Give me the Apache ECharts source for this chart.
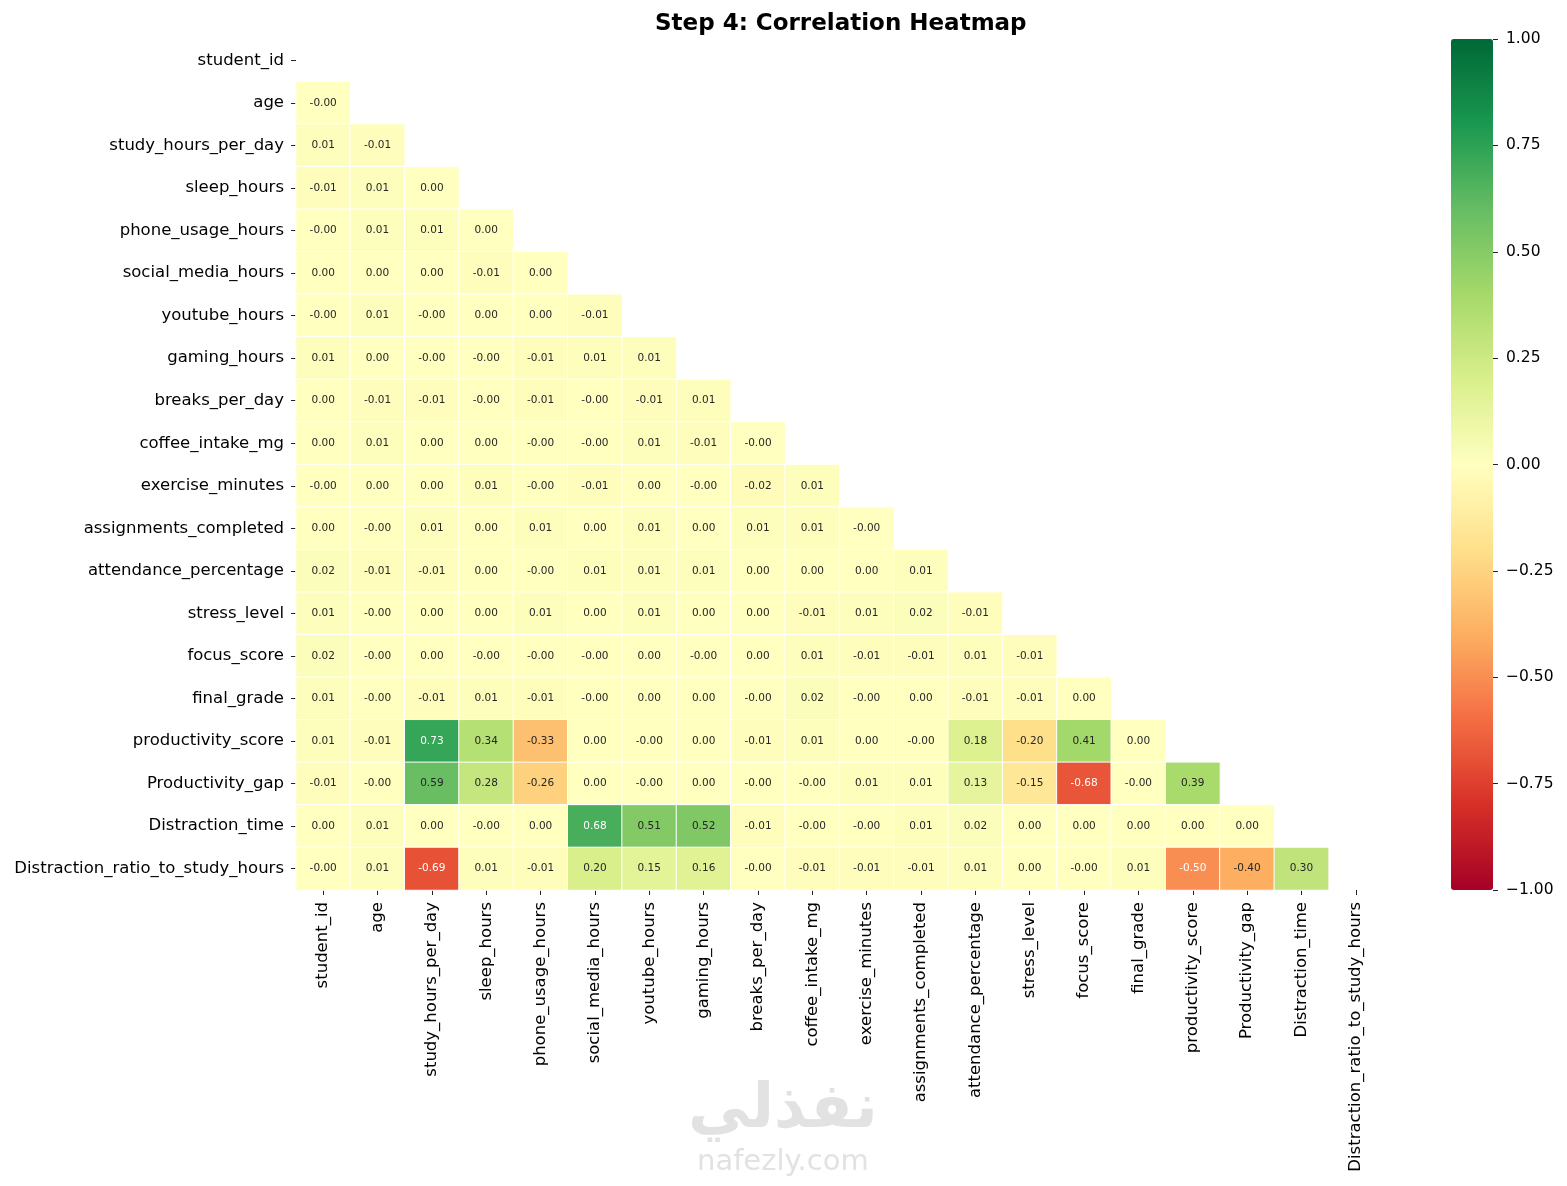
<!DOCTYPE html>
<html>
<head>
<meta charset="utf-8">
<title>Step 4: Correlation Heatmap</title>
<script src="https://cdn.jsdelivr.net/npm/echarts@6/dist/echarts.min.js"></script>
<style>
  html, body { margin: 0; padding: 0; background: #fff; }
  #chart { width: 1567px; height: 1186px; }
</style>
</head>
<body>
<div id="chart"></div>
<script>
// column / row names, same order on both axes
var features = [
  'student_id', 'age', 'study_hours_per_day', 'sleep_hours', 'phone_usage_hours',
  'social_media_hours', 'youtube_hours', 'gaming_hours', 'breaks_per_day', 'coffee_intake_mg',
  'exercise_minutes', 'assignments_completed', 'attendance_percentage', 'stress_level', 'focus_score',
  'final_grade', 'productivity_score', 'Productivity_gap', 'Distraction_time', 'Distraction_ratio_to_study_hours'
];

// lower triangle, row i holds columns 0..i-1 (-0 means "-0.00" in the picture)
var rowAge          = [-0];
var rowStudy        = [0.01, -0.01];
var rowSleep        = [-0.01, 0.01, 0];
var rowPhone        = [-0, 0.01, 0.01, 0];
var rowSocial       = [0, 0, 0, -0.01, 0];
var rowYoutube      = [-0, 0.01, -0, 0, 0, -0.01];
var rowGaming       = [0.01, 0, -0, -0, -0.01, 0.01, 0.01];
var rowBreaks       = [0, -0.01, -0.01, -0, -0.01, -0, -0.01, 0.01];
var rowCoffee       = [0, 0.01, 0, 0, -0, -0, 0.01, -0.01, -0];
var rowExercise     = [-0, 0, 0, 0.01, -0, -0.01, 0, -0, -0.02, 0.01];
var rowAssignments  = [0, -0, 0.01, 0, 0.01, 0, 0.01, 0, 0.01, 0.01, -0];
var rowAttendance   = [0.02, -0.01, -0.01, 0, -0, 0.01, 0.01, 0.01, 0, 0, 0, 0.01];
var rowStress       = [0.01, -0, 0, 0, 0.01, 0, 0.01, 0, 0, -0.01, 0.01, 0.02, -0.01];
var rowFocus        = [0.02, -0, 0, -0, -0, -0, 0, -0, 0, 0.01, -0.01, -0.01, 0.01, -0.01];
var rowFinal        = [0.01, -0, -0.01, 0.01, -0.01, -0, 0, 0, -0, 0.02, -0, 0, -0.01, -0.01, 0];
var rowProductivity = [0.01, -0.01, 0.73, 0.34, -0.33, 0, -0, 0, -0.01, 0.01, 0, -0, 0.18, -0.20, 0.41, 0];
var rowGap          = [-0.01, -0, 0.59, 0.28, -0.26, 0, -0, 0, -0, -0, 0.01, 0.01, 0.13, -0.15, -0.68, -0, 0.39];
var rowDistraction  = [0, 0.01, 0, -0, 0, 0.68, 0.51, 0.52, -0.01, -0, -0, 0.01, 0.02, 0, 0, 0, 0, 0];
var rowRatio        = [-0, 0.01, -0.69, 0.01, -0.01, 0.20, 0.15, 0.16, -0, -0.01, -0.01, -0.01, 0.01, 0, -0, 0.01, -0.50, -0.40, 0.30];

var colorbarTicks = [-1, -0.75, -0.5, -0.25, 0, 0.25, 0.5, 0.75, 1];

var rows = [[], rowAge, rowStudy, rowSleep, rowPhone, rowSocial, rowYoutube, rowGaming,
  rowBreaks, rowCoffee, rowExercise, rowAssignments, rowAttendance, rowStress, rowFocus,
  rowFinal, rowProductivity, rowGap, rowDistraction, rowRatio];

// RdYlGn
var rdYlGn = ['#a50026', '#d73027', '#f46d43', '#fdae61', '#fee08b', '#ffffbf',
  '#d9ef8b', '#a6d96a', '#66bd63', '#1a9850', '#006837'];

function fmt(v) {
  var s = Math.abs(v).toFixed(2);
  return (v < 0 || (v === 0 && 1 / v < 0)) ? '-' + s : s;
}

var cells = [];
rows.forEach(function (r, i) {
  r.forEach(function (v, j) {
    var dark = v >= 0.65 || v <= -0.45;
    cells.push({
      value: [j, i, v],
      text: fmt(v),
      label: { color: dark ? '#ffffff' : '#262626' }
    });
  });
});

var chart = echarts.init(document.getElementById('chart'), null, { renderer: 'canvas' });
var FONT = 'DejaVu Sans';

var option = {
  backgroundColor: '#ffffff',
  animation: false,
  textStyle: { fontFamily: FONT },
  title: {
    text: 'Step 4: Correlation Heatmap',
    left: 650,
    top: 8,
    textStyle: { fontFamily: FONT, fontSize: 23, fontWeight: 'bold', color: '#000' }
  },
  grid: [
    { left: 296, top: 39, width: 1087, height: 851 },
    // thin strip just right of the colour bar, carries its tick labels
    { left: 1493, top: 39, width: 10, height: 851 }
  ],
  xAxis: [{
    type: 'category',
    data: features,
    gridIndex: 0,
    position: 'bottom',
    axisLine: { show: false },
    axisTick: { show: true, alignWithLabel: true, length: 5, lineStyle: { color: '#222' } },
    axisLabel: { rotate: 90, margin: 12, interval: 0, fontSize: 16.5, color: '#000', fontFamily: FONT },
    splitLine: { show: false }
  }, {
    type: 'value', gridIndex: 1, min: 0, max: 1, show: false
  }],
  yAxis: [{
    type: 'category',
    data: features,
    gridIndex: 0,
    inverse: true,
    axisLine: { show: false },
    axisTick: { show: true, alignWithLabel: true, length: 5, lineStyle: { color: '#222' } },
    axisLabel: { margin: 12, interval: 0, fontSize: 16.5, color: '#000', fontFamily: FONT },
    splitLine: { show: false }
  }, {
    type: 'value',
    gridIndex: 1,
    position: 'left',
    min: -1,
    max: 1,
    interval: 0.25,
    axisLine: { show: false },
    axisTick: { show: true, inside: true, length: 5, lineStyle: { color: '#222', width: 1 } },
    axisLabel: {
      inside: true, margin: 13, fontSize: 15.5, color: '#000', fontFamily: FONT,
      formatter: function (v) {
        if (colorbarTicks.indexOf(v) < 0) return '';
        return (v < 0 ? '\u2212' : '') + Math.abs(v).toFixed(2);
      }
    },
    splitLine: { show: false }
  }],
  visualMap: {
    type: 'continuous',
    min: -1,
    max: 1,
    seriesIndex: 0,
    calculable: false,
    hoverLink: false,
    orient: 'vertical',
    left: 1451,
    top: 39,
    padding: 0,
    itemWidth: 42,
    itemHeight: 851,
    text: null,
    showLabel: false,
    inRange: { color: rdYlGn }
  },
  series: [{
    type: 'heatmap',
    xAxisIndex: 0,
    yAxisIndex: 0,
    data: cells,
    itemStyle: { borderColor: '#ffffff', borderWidth: 1 },
    label: {
      show: true,
      fontSize: 10.5,
      fontFamily: FONT,
      formatter: function (p) { return cells[p.dataIndex].text; }
    },
    emphasis: { disabled: true }
  }],
  graphic: [{
    type: 'text',
    left: 688,
    top: 1080,
    silent: true,
    style: { text: 'نفذلي', font: 'bold 62px "DejaVu Sans"', fill: '#e2e2e2' }
  }, {
    type: 'text',
    left: 697,
    top: 1148,
    silent: true,
    style: { text: 'nafezly.com', font: '29px "DejaVu Sans"', fill: '#e2e2e2' }
  }]
};

chart.setOption(option);
</script>
</body>
</html>
